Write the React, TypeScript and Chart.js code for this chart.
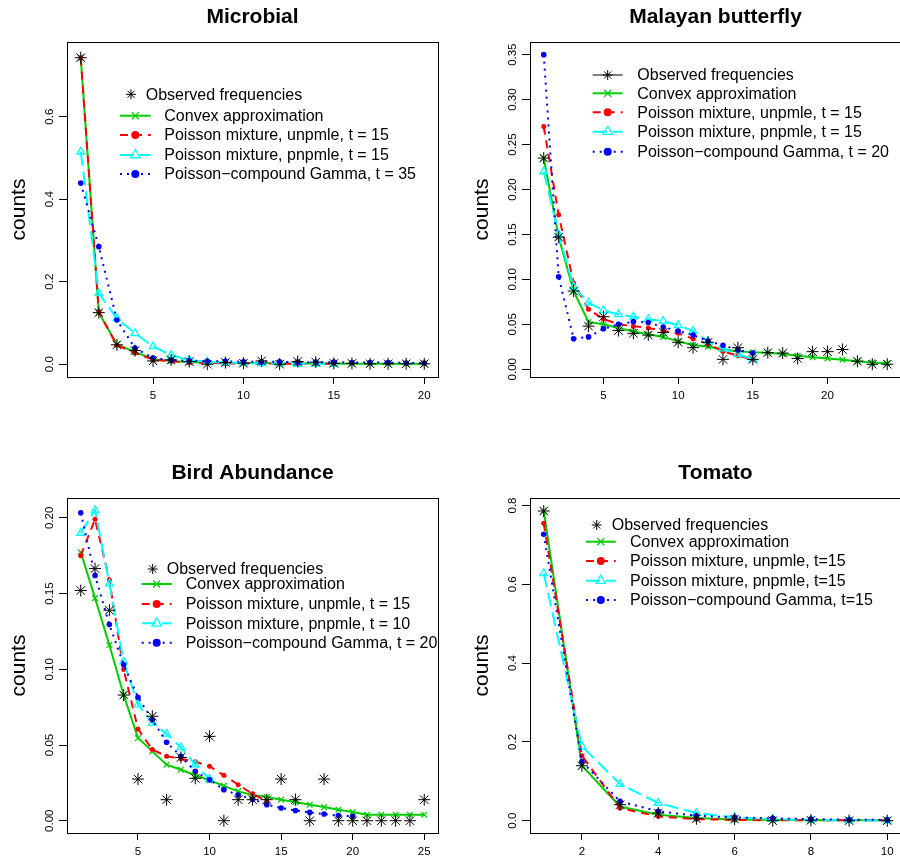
import React, { useEffect, useRef } from "react";
import { Chart, registerables } from "chart.js";
import { drawPoint } from "chart.js/helpers";

Chart.register(...registerables);

const FONT = "'Liberation Sans', Arial, Helvetica, sans-serif";

// ---------- Microbial ----------
const microbialX = [1, 2, 3, 4, 5, 6, 7, 8, 9, 10, 11, 12, 13, 14, 15, 16, 17, 18, 19, 20];
const microbialObserved = [0.743, 0.125, 0.047, 0.033, 0.008, 0.0105, 0.0065, 0.0, 0.004, 0.0024, 0.008, 0.0, 0.0065, 0.005, 0.002, 0.002, 0.001, 0.001, 0.001, 0.001];
const microbialConvex = [0.743, 0.125, 0.048, 0.03, 0.012, 0.008, 0.005, 0.004, 0.003, 0.003, 0.003, 0.002, 0.002, 0.002, 0.002, 0.001, 0.001, 0.001, 0.001, 0.001];
const microbialUnpmle = [0.743, 0.127, 0.046, 0.027, 0.011, 0.007, 0.004, 0.003, 0.002, 0.002, 0.002, 0.001, 0.001, 0.001, 0.001];
const microbialPnpmle = [0.515, 0.172, 0.111, 0.075, 0.043, 0.022, 0.01, 0.006, 0.004, 0.003, 0.002, 0.002, 0.001, 0.001, 0.001];
const microbialGamma = [0.439, 0.285, 0.107, 0.039, 0.015, 0.01, 0.008, 0.007, 0.007, 0.006, 0.006, 0.006, 0.005, 0.005, 0.005, 0.004, 0.004, 0.004, 0.003, 0.003];
const microbialXTicks = [5, 10, 15, 20];
const microbialYTicks = [0, 0.2, 0.4, 0.6];

// ---------- Malayan butterfly ----------
const butterflyX = [1, 2, 3, 4, 5, 6, 7, 8, 9, 10, 11, 12, 13, 14, 15, 16, 17, 18, 19, 20, 21, 22, 23, 24];
const butterflyObserved = [0.235, 0.147, 0.087, 0.048, 0.0585, 0.043, 0.04, 0.038, 0.041, 0.03, 0.024, 0.03, 0.011, 0.024, 0.011, 0.0185, 0.018, 0.012, 0.0196, 0.0196, 0.022, 0.009, 0.0056, 0.0056];
const butterflyConvex = [0.235, 0.147, 0.087, 0.0526, 0.05, 0.046, 0.042, 0.039, 0.036, 0.031, 0.027, 0.025, 0.022, 0.02, 0.019, 0.0185, 0.017, 0.015, 0.0135, 0.012, 0.0105, 0.0088, 0.0074, 0.0066];
const butterflyUnpmle = [0.27, 0.172, 0.096, 0.0667, 0.056, 0.05, 0.048, 0.046, 0.0426, 0.04, 0.034, 0.028, 0.02, 0.015, 0.011];
const butterflyPnpmle = [0.22, 0.15, 0.092, 0.074, 0.0655, 0.061, 0.0585, 0.0556, 0.0537, 0.049, 0.0426, 0.031, 0.023, 0.0167, 0.011];
const butterflyGamma = [0.35, 0.103, 0.034, 0.036, 0.045, 0.05, 0.053, 0.052, 0.047, 0.0426, 0.038, 0.0315, 0.0267, 0.0215, 0.018];
const butterflyXTicks = [5, 10, 15, 20];
const butterflyYTicks = [0, 0.05, 0.1, 0.15, 0.2, 0.25, 0.3, 0.35];

// ---------- Bird Abundance ----------
const birdX = [1, 2, 3, 4, 5, 6, 7, 8, 9, 10, 11, 12, 13, 14, 15, 16, 17, 18, 19, 20, 21, 22, 23, 24, 25];
const birdObserved = [0.152, 0.1665, 0.139, 0.083, 0.0275, 0.069, 0.0139, 0.0418, 0.028, 0.0557, 0.0, 0.0139, 0.0139, 0.0139, 0.0275, 0.0139, 0.0, 0.0275, 0.0, 0.0, 0.0, 0.0, 0.0, 0.0, 0.0139];
const birdConvex = [0.1773, 0.147, 0.116, 0.083, 0.0546, 0.0458, 0.037, 0.0337, 0.03, 0.0267, 0.023, 0.0194, 0.017, 0.0156, 0.0139, 0.0123, 0.0106, 0.009, 0.0073, 0.0057, 0.004, 0.004, 0.004, 0.004, 0.004];
const birdUnpmle = [0.175, 0.199, 0.159, 0.0998, 0.0606, 0.047, 0.0425, 0.041, 0.039, 0.0359, 0.03, 0.0238, 0.0178, 0.0128];
const birdPnpmle = [0.19, 0.205, 0.1566, 0.105, 0.0767, 0.0645, 0.0573, 0.0485, 0.037, 0.0275];
const birdGamma = [0.2033, 0.162, 0.1295, 0.103, 0.0815, 0.0667, 0.0518, 0.0425, 0.0326, 0.027, 0.0205, 0.017, 0.0143, 0.0106, 0.0084, 0.0068, 0.0055, 0.0044, 0.0035, 0.0029];
const birdXTicks = [5, 10, 15, 20, 25];
const birdYTicks = [0, 0.05, 0.1, 0.15, 0.2];

// ---------- Tomato ----------
const tomatoX = [1, 2, 3, 4, 5, 6, 7, 8, 9, 10];
const tomatoObserved = [0.786, 0.1395, 0.0406, 0.0195, 0.005, 0.004, 0.0, 0.001, 0.0, 0.0];
const tomatoConvex = [0.786, 0.1395, 0.036, 0.015, 0.0068, 0.003, 0.0017, 0.001, 0.001, 0.001];
const tomatoUnpmle = [0.755, 0.165, 0.032, 0.011, 0.004, 0.002, 0.001, 0.001, 0.001, 0.001];
const tomatoPnpmle = [0.628, 0.189, 0.093, 0.045, 0.0195, 0.0085, 0.004, 0.002, 0.001, 0.0005];
const tomatoGamma = [0.727, 0.15, 0.049, 0.0237, 0.0127, 0.0085, 0.006, 0.004, 0.0025, 0.002];
const tomatoXTicks = [2, 4, 6, 8, 10];
const tomatoYTicks = [0, 0.2, 0.4, 0.6, 0.8];

// ---------- styles ----------
type Kind = "obs" | "convex" | "unpmle" | "pnpmle" | "gamma";
const STYLE: Record<Kind, any> = {
  obs: { color: "#000000", width: 1, dash: [], point: "star", radius: 6, legendRadius: 5, fill: "rgba(0,0,0,0)", pbw: 1 },
  convex: { color: "#00CD00", width: 2, dash: [], point: "crossRot", radius: 4, legendRadius: 5, fill: "rgba(0,0,0,0)", pbw: 1.3 },
  unpmle: { color: "#FF0000", width: 2, dash: [8, 6], point: "circle", radius: 2.5, legendRadius: 4, fill: "#FF0000", pbw: 0 },
  pnpmle: { color: "#00FFFF", width: 2, dash: [14, 6], point: "triangle", radius: 4.5, legendRadius: 5.5, fill: "rgba(0,0,0,0)", pbw: 1.3 },
  gamma: { color: "#0000FF", width: 2, dash: [2, 5], point: "circle", radius: 2.8, legendRadius: 4, fill: "#0000FF", pbw: 0 },
};

const CANVAS_W = 445;
const CANVAS_H = 406;

type Entry = { kind: Kind; label: string; y: number; mark: number; text: number; line?: [number, number] };
type Panel = {
  id: string;
  title: string;
  left: number;
  top: number;
  padRight: number;
  xMin: number; xMax: number; yMin: number; yMax: number;
  xTicks: number[]; yTicks: number[]; yDec: number; yPad: number;
  xs: number[];
  series: { kind: Kind; values: number[] }[];
  legend: Entry[];
};

function rows(ys: number[], labels: string[], obs: { mark: number; text: number; line?: [number, number] }, rest: { mark: number; text: number; line: [number, number] }): Entry[] {
  const kinds: Kind[] = ["obs", "convex", "unpmle", "pnpmle", "gamma"];
  return kinds.map((k, i) => (i === 0 ? { kind: k, label: labels[i], y: ys[i], ...obs } : { kind: k, label: labels[i], y: ys[i], ...rest }));
}

const panels: Panel[] = [
  {
    id: "microbial", title: "Microbial", left: 0, top: 0, padRight: 6,
    xMin: 0.24, xMax: 20.76, yMin: -0.031, yMax: 0.781,
    xTicks: microbialXTicks, yTicks: microbialYTicks, yDec: 1, yPad: 1,
    xs: microbialX,
    series: [
      { kind: "obs", values: microbialObserved },
      { kind: "gamma", values: microbialGamma },
      { kind: "pnpmle", values: microbialPnpmle },
      { kind: "unpmle", values: microbialUnpmle },
      { kind: "convex", values: microbialConvex },
    ],
    legend: rows([94.3, 115.7, 135, 155, 174],
      ["Observed frequencies", "Convex approximation", "Poisson mixture, unpmle, t = 15", "Poisson mixture, pnpmle, t = 15", "Poisson\u2212compound Gamma, t = 35"],
      { mark: 131, text: 145.7 }, { mark: 135.3, text: 164.3, line: [120, 150.7] }),
  },
  {
    id: "butterfly", title: "Malayan butterfly", left: 463, top: 0, padRight: 5.5,
    xMin: 0.08, xMax: 24.92, yMin: -0.0086, yMax: 0.3641,
    xTicks: butterflyXTicks, yTicks: butterflyYTicks, yDec: 2, yPad: -2.2,
    xs: butterflyX,
    series: [
      { kind: "obs", values: butterflyObserved },
      { kind: "gamma", values: butterflyGamma },
      { kind: "pnpmle", values: butterflyPnpmle },
      { kind: "unpmle", values: butterflyUnpmle },
      { kind: "convex", values: butterflyConvex },
    ],
    legend: rows([75, 93.3, 112.3, 131.7, 151.7],
      ["Observed frequencies", "Convex approximation", "Poisson mixture, unpmle, t = 15", "Poisson mixture, pnpmle, t = 15", "Poisson\u2212compound Gamma, t = 20"],
      { mark: 144.7, text: 174.3, line: [129.7, 159.7] }, { mark: 144.7, text: 174.3, line: [129.7, 159.7] }),
  },
  {
    id: "bird", title: "Bird Abundance", left: 0, top: 456, padRight: 5.7,
    xMin: 0.04, xMax: 25.96, yMin: -0.0081, yMax: 0.2131,
    xTicks: birdXTicks, yTicks: birdYTicks, yDec: 2, yPad: -2.2,
    xs: birdX,
    series: [
      { kind: "obs", values: birdObserved },
      { kind: "gamma", values: birdGamma },
      { kind: "pnpmle", values: birdPnpmle },
      { kind: "unpmle", values: birdUnpmle },
      { kind: "convex", values: birdConvex },
    ],
    legend: rows([113, 128, 148, 167.3, 186.7],
      ["Observed frequencies", "Convex approximation", "Poisson mixture, unpmle, t = 15", "Poisson mixture, pnpmle, t = 10", "Poisson\u2212compound Gamma, t = 20"],
      { mark: 152.7, text: 166.7 }, { mark: 156.7, text: 185.7, line: [141.7, 171.7] }),
  },
  {
    id: "tomato", title: "Tomato", left: 463, top: 456, padRight: 5,
    xMin: 0.64, xMax: 10.36, yMin: -0.0312, yMax: 0.819,
    xTicks: tomatoXTicks, yTicks: tomatoYTicks, yDec: 1, yPad: 1,
    xs: tomatoX,
    series: [
      { kind: "obs", values: tomatoObserved },
      { kind: "gamma", values: tomatoGamma },
      { kind: "pnpmle", values: tomatoPnpmle },
      { kind: "unpmle", values: tomatoUnpmle },
      { kind: "convex", values: tomatoConvex },
    ],
    legend: rows([69, 85.7, 105, 124.7, 144],
      ["Observed frequencies", "Convex approximation", "Poisson mixture, unpmle, t=15", "Poisson mixture, pnpmle, t=15", "Poisson\u2212compound Gamma, t=15"],
      { mark: 133.7, text: 148.7 }, { mark: 137.8, text: 167, line: [123, 152.7] }),
  },
];

const boxPlugin = {
  id: "rbox",
  afterDraw(chart: any) {
    const { ctx, chartArea } = chart;
    const l = Math.round(chartArea.left) + 0.5;
    const t = Math.round(chartArea.top) + 0.5;
    const r = Math.round(chartArea.right) + 0.5;
    const b = Math.round(chartArea.bottom) + 0.5;
    ctx.save();
    ctx.strokeStyle = "#000";
    ctx.lineWidth = 1;
    ctx.setLineDash([]);
    ctx.strokeRect(l, t, r - l, b - t);
    ctx.restore();
  },
};

const legendPlugin = {
  id: "rlegend",
  afterDraw(chart: any, _args: any, opts: any) {
    const ctx = chart.ctx;
    const entries: Entry[] = opts.entries || [];
    ctx.save();
    for (const e of entries) {
      const st = STYLE[e.kind];
      if (e.line) {
        ctx.beginPath();
        ctx.strokeStyle = st.color;
        ctx.lineWidth = st.width;
        ctx.setLineDash(st.dash);
        ctx.moveTo(e.line[0], e.y);
        ctx.lineTo(e.line[1], e.y);
        ctx.stroke();
      }
      ctx.setLineDash([]);
      ctx.strokeStyle = st.color;
      ctx.fillStyle = st.fill;
      ctx.lineWidth = st.pbw > 0 ? st.pbw : 1;
      drawPoint(ctx, { pointStyle: st.point, rotation: 0, radius: st.legendRadius, borderWidth: st.pbw }, e.mark, e.y);
      ctx.fillStyle = "#000";
      ctx.font = `16px ${FONT}`;
      ctx.textBaseline = "middle";
      ctx.textAlign = "left";
      ctx.fillText(e.label, e.text, e.y + 1);
    }
    ctx.restore();
  },
};

function makeConfig(p: Panel): any {
  const datasets = p.series.map((s) => {
    const st = STYLE[s.kind];
    const entry = p.legend.find((e) => e.kind === s.kind);
    return {
      label: entry ? entry.label : s.kind,
      data: s.values.map((v, i) => ({ x: p.xs[i], y: v })),
      showLine: s.kind !== "obs",
      borderColor: st.color,
      borderWidth: st.width,
      borderDash: st.dash,
      fill: false,
      tension: 0,
      pointStyle: st.point,
      pointRadius: st.radius,
      pointBorderColor: st.color,
      pointBackgroundColor: st.fill,
      pointBorderWidth: st.pbw,
    };
  });
  const tickFont = { family: FONT, size: 11.5 };
  return {
    type: "line",
    data: { datasets },
    options: {
      animation: false,
      responsive: false,
      maintainAspectRatio: false,
      events: [],
      layout: { padding: { left: 0, right: p.padRight, top: 0, bottom: 0 } },
      plugins: {
        legend: { display: false },
        tooltip: { enabled: false },
        title: {
          display: true,
          text: p.title,
          fullSize: false,
          color: "#000",
          font: { family: FONT, size: 21, weight: "bold", lineHeight: 1.2 },
          padding: { top: 4.4, bottom: 12.4 },
        },
        rlegend: { entries: p.legend },
      },
      scales: {
        x: {
          type: "linear",
          min: p.xMin,
          max: p.xMax,
          afterBuildTicks: (s: any) => {
            s.ticks = p.xTicks.map((v) => ({ value: v }));
          },
          afterFit: (s: any) => {
            s.height = CANVAS_H - 377;
          },
          grid: { display: true, drawOnChartArea: false, drawTicks: true, tickLength: 7, color: "#000", lineWidth: 1 },
          border: { display: false },
          ticks: {
            font: tickFont,
            color: "#000",
            padding: 5,
            maxRotation: 0,
            minRotation: 0,
            autoSkip: false,
            callback: (v: number) => String(v),
          },
        },
        y: {
          type: "linear",
          min: p.yMin,
          max: p.yMax,
          afterBuildTicks: (s: any) => {
            s.ticks = p.yTicks.map((v) => ({ value: v }));
          },
          afterFit: (s: any) => {
            s.width = 67;
          },
          grid: { display: true, drawOnChartArea: false, drawTicks: true, tickLength: 8, color: "#000", lineWidth: 1 },
          border: { display: false },
          ticks: {
            font: tickFont,
            color: "#000",
            padding: p.yPad,
            minRotation: 90,
            maxRotation: 90,
            crossAlign: "center",
            autoSkip: false,
            callback: (v: number) => Number(v).toFixed(p.yDec),
          },
          title: {
            display: true,
            text: "counts",
            color: "#000",
            font: { family: FONT, size: 21, lineHeight: 1.2 },
            padding: { top: 6.4, bottom: 0 },
          },
        },
      },
    },
    plugins: [boxPlugin, legendPlugin],
  };
}

function PanelChart({ p }: { p: Panel }) {
  const ref = useRef<HTMLCanvasElement>(null);
  useEffect(() => {
    if (!ref.current) return;
    const chart = new Chart(ref.current, makeConfig(p));
    return () => chart.destroy();
  }, [p]);
  return (
    <canvas
      ref={ref}
      width={CANVAS_W}
      height={CANVAS_H}
      style={{ position: "absolute", left: p.left, top: p.top, width: CANVAS_W, height: CANVAS_H }}
    />
  );
}

export default function App() {
  return (
    <div style={{ position: "fixed", left: 0, top: 0, width: 900, height: 863, overflow: "hidden", background: "#ffffff" }}>
      {panels.map((p) => (
        <PanelChart key={p.id} p={p} />
      ))}
    </div>
  );
}
